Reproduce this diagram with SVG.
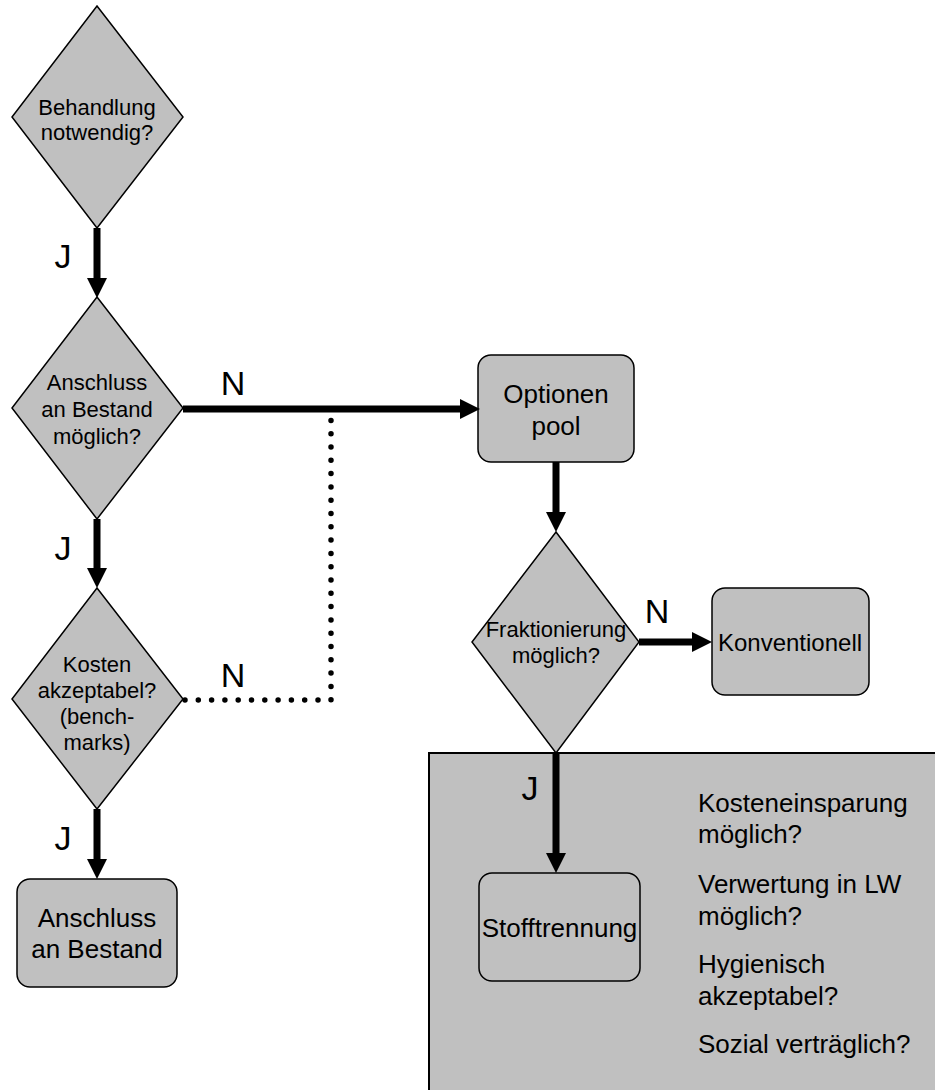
<svg xmlns="http://www.w3.org/2000/svg" width="935" height="1090" viewBox="0 0 935 1090">
<defs>
<marker id="ah" markerUnits="userSpaceOnUse" markerWidth="20" markerHeight="20" viewBox="0 0 20 20" refX="2" refY="10" orient="auto">
<path d="M0,0 L20,10 L0,20 z" fill="#000"/>
</marker>
<style>
.shape{fill:#c0c0c0;stroke:#000;stroke-width:1.5}
.t{font-family:"Liberation Sans",Arial,sans-serif;fill:#000;text-anchor:middle}
.s22{font-size:22px}
.s24{font-size:24px}
.s26{font-size:26px}
.lbl{font-family:"Liberation Sans",Arial,sans-serif;font-size:34px;fill:#000;text-anchor:middle}
.lt{font-family:"Liberation Sans",Arial,sans-serif;font-size:26px;fill:#000}
.arr{fill:none;stroke:#000;stroke-width:7;marker-end:url(#ah)}
.dot{fill:none;stroke:#000;stroke-width:5.5;stroke-linecap:round;stroke-dasharray:0 13.3}
</style>
</defs>
<rect width="935" height="1090" fill="#fff"/>

<g id="panel">
<rect x="429" y="753" width="520" height="350" fill="#c0c0c0" stroke="#000" stroke-width="2"/>
<text class="lt" x="698" y="812">Kosteneinsparung</text>
<text class="lt" x="698" y="843">möglich?</text>
<text class="lt" x="698" y="893">Verwertung in LW</text>
<text class="lt" x="698" y="925">möglich?</text>
<text class="lt" x="698" y="973">Hygienisch</text>
<text class="lt" x="698" y="1005">akzeptabel?</text>
<text class="lt" x="698" y="1053">Sozial verträglich?</text>
</g>

<g id="d1">
<polygon class="shape" points="97,6 183,117 97,228 12,117"/>
<text class="t s22" x="97" y="115">Behandlung</text>
<text class="t s22" x="97" y="140">notwendig?</text>
</g>

<g id="d2">
<polygon class="shape" points="97,297 183,408 97,519 12,408"/>
<text class="t s22" x="97" y="390">Anschluss</text>
<text class="t s22" x="97" y="417">an Bestand</text>
<text class="t s22" x="97" y="444">möglich?</text>
</g>

<g id="d3">
<polygon class="shape" points="97,588 183,699 97,809 12,699"/>
<text class="t s22" x="97" y="672">Kosten</text>
<text class="t s22" x="97" y="698">akzeptabel?</text>
<text class="t s22" x="97" y="724">(bench-</text>
<text class="t s22" x="97" y="750">marks)</text>
</g>

<g id="r1">
<rect class="shape" x="17" y="879" width="160" height="108" rx="13"/>
<text class="t s26" x="97" y="927">Anschluss</text>
<text class="t s26" x="97" y="958">an Bestand</text>
</g>

<g id="r2">
<rect class="shape" x="478" y="355" width="156" height="107" rx="13"/>
<text class="t s26" x="556" y="403">Optionen</text>
<text class="t s26" x="556" y="435">pool</text>
</g>

<g id="d4">
<polygon class="shape" points="556,532 639,642 556,753 472,642"/>
<text class="t s22" x="556" y="637">Fraktionierung</text>
<text class="t s22" x="556" y="663">möglich?</text>
</g>

<g id="r3">
<rect class="shape" x="712" y="588" width="157" height="107" rx="13"/>
<text class="t s24" x="790" y="651">Konventionell</text>
</g>

<g id="r4">
<rect class="shape" x="479" y="873" width="161" height="108" rx="13"/>
<text class="t s26" x="559.5" y="937">Stofftrennung</text>
</g>

<g id="connectors">
<path class="arr" d="M97,228 V280"/>
<path class="arr" d="M183,409 H462"/>
<path class="arr" d="M97,519 V570"/>
<path class="arr" d="M97,809 V861"/>
<path class="arr" d="M556,462 V514"/>
<path class="arr" d="M639,642 H694"/>
<path class="arr" d="M556,753 V855"/>
<path class="dot" d="M185,700 H331 V416"/>
<text class="lbl" x="63" y="268">J</text>
<text class="lbl" x="63" y="560">J</text>
<text class="lbl" x="63" y="850">J</text>
<text class="lbl" x="530" y="800">J</text>
<text class="lbl" x="233" y="395">N</text>
<text class="lbl" x="233" y="687">N</text>
<text class="lbl" x="657" y="623">N</text>
</g>
</svg>
